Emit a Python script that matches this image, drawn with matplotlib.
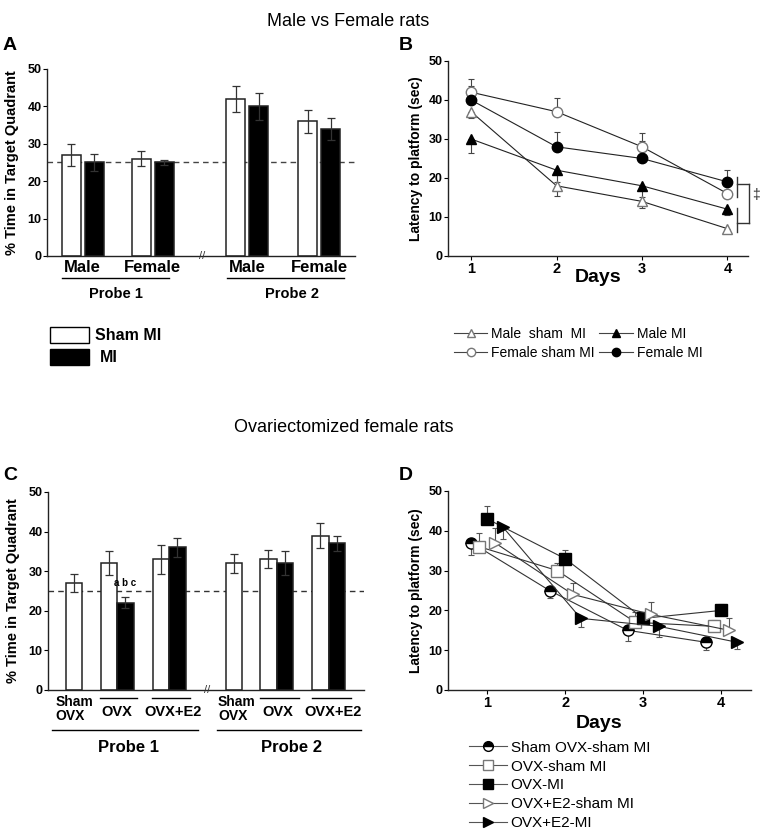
import matplotlib.pyplot as plt
import numpy as np
from matplotlib.lines import Line2D
from matplotlib.patches import Rectangle

plt.rcParams['font.family'] = ['Liberation Sans', 'DejaVu Sans']

# ---------------- data ----------------
# A: % time in target quadrant, male vs female
a_groups = ['Male', 'Female', 'Male', 'Female']
a_sham = [27, 26, 42, 36]
a_sham_err = [3, 2, 3.5, 3]
a_mi = [25, 25, 40, 34]
a_mi_err = [2.2, 0.8, 3.6, 3]

# B: latency, male vs female
days = [1, 2, 3, 4]
b_male_sham = [37, 18, 14, 7]
b_male_sham_err = [1.5, 2.5, 1.7, 1]
b_male_mi = [30, 22, 18, 12]
b_male_mi_err = [3.5, 3, 3, 1.5]
b_fem_sham = [42, 37, 28, 16]
b_fem_sham_err = [3.5, 3.5, 3.5, 1]
b_fem_mi = [40, 28, 25, 19]
b_fem_mi_err = [3.5, 3.7, 4.5, 3]

# C: % time in target quadrant, ovariectomized
c_sham = [27, 32, 33, 32, 33, 39]
c_sham_err = [2.3, 3, 3.6, 2.4, 2.3, 3.2]
c_mi = [np.nan, 22, 36, np.nan, 32, 37]
c_mi_err = [0, 1.4, 2.5, 0, 3, 2]

# D: latency, ovariectomized
d_shamovx = [37, 25, 15, 12]
d_shamovx_err = [3.2, 2, 2.7, 2]
d_ovx_sham = [36, 30, 17, 16]
d_ovx_sham_err = [3.5, 2, 2.5, 1.7]
d_ovx_mi = [43, 33, 18, 20]
d_ovx_mi_err = [3.2, 2.3, 1, 1.7]
d_e2_sham = [37, 24, 19, 15]
d_e2_sham_err = [3.7, 2.8, 3, 3.2]
d_e2_mi = [41, 18, 16, 12]
d_e2_mi_err = [3, 2.2, 2.7, 1.7]

# ---------------- layout ----------------
W, H = 760, 833
fig = plt.figure(figsize=(W / 100, H / 100), dpi=100)


def px_axes(l, t, r, b):
    return fig.add_axes([l / W, 1 - b / H, (r - l) / W, (b - t) / H])


def style(ax, tick_size=9):
    for s in ['top', 'right']:
        ax.spines[s].set_visible(False)
    for s in ['left', 'bottom']:
        ax.spines[s].set_linewidth(1.0)
        ax.spines[s].set_color('#222')
    ax.set_ylim(0, 50)
    ax.set_yticks(range(0, 51, 10))
    ax.tick_params(axis='y', length=3, width=0.8, labelsize=tick_size, pad=1)
    for t in ax.get_yticklabels():
        t.set_fontweight('bold')


ecol = '#333'
bar_kw = dict(edgecolor='#222', linewidth=1.1, zorder=2)
err_kw = dict(fmt='none', ecolor=ecol, elinewidth=0.9, capsize=3, capthick=0.9, zorder=3)

# ---- panel A ----
axA = px_axes(47, 69, 355, 256)
style(axA)
a_pos = np.array([0, 1, 2.35, 3.38])
bw = 0.27
axA.bar(a_pos - 0.165, a_sham, bw, color='white', **bar_kw)
axA.bar(a_pos + 0.165, a_mi, bw, color='black', **bar_kw)
axA.errorbar(a_pos - 0.165, a_sham, yerr=a_sham_err, **err_kw)
axA.errorbar(a_pos + 0.165, a_mi, yerr=a_mi_err, **err_kw)
axA.axhline(25, ls=(0, (4, 3)), color='#444', lw=1, zorder=1)
axA.set_xlim(-0.51, 3.89)
axA.set_xticks([])
axA.set_ylabel('% Time in Target Quadrant', fontsize=10.5, fontweight='bold', labelpad=6)
tA = axA.get_xaxis_transform()
axA.text(1.7, 0, '//', transform=tA, ha='center', va='center', fontsize=8, color='#333')
for x, g in zip(a_pos, a_groups):
    axA.text(x, -0.064, g, transform=tA, ha='center', va='center', fontsize=12, fontweight='bold')
for x0, x1, xc, lab in [(-0.3, 1.24, 0.47, 'Probe 1'), (2.06, 3.74, 2.99, 'Probe 2')]:
    axA.plot([x0, x1], [-0.118, -0.118], transform=tA, color='black', lw=1, clip_on=False)
    axA.text(xc, -0.203, lab, transform=tA, ha='center', va='center', fontsize=10.5, fontweight='bold')

# legend for A
fig.add_artist(Rectangle((50 / W, 1 - 343 / H), 39 / W, 16 / H, transform=fig.transFigure,
                         facecolor='white', edgecolor='black', lw=1))
fig.add_artist(Rectangle((50 / W, 1 - 365 / H), 39 / W, 16 / H, transform=fig.transFigure,
                         facecolor='black', edgecolor='black', lw=1))
fig.text(95 / W, 1 - 335 / H, 'Sham MI', fontsize=11.5, fontweight='bold', va='center')
fig.text(100 / W, 1 - 357 / H, 'MI', fontsize=11.5, fontweight='bold', va='center')

# ---- panel B ----
axB = px_axes(448, 61, 748, 256)
style(axB)
axB.set_xlim(0.73, 4.24)
axB.set_xticks(days)
axB.tick_params(axis='x', length=3, width=0.8, labelsize=10.5, pad=1)
for t in axB.get_xticklabels():
    t.set_fontweight('bold')
axB.set_xlabel('Days', fontsize=14, fontweight='bold', labelpad=-5)
axB.set_ylabel('Latency to platform (sec)', fontsize=10, fontweight='bold', labelpad=4)

b_series = [
    (b_male_sham, b_male_sham_err, 'down', '^', 'white', '#777', 'Male  sham  MI'),
    (b_fem_sham, b_fem_sham_err, 'up', 'o', 'white', '#777', 'Female sham MI'),
    (b_male_mi, b_male_mi_err, 'down', '^', 'black', 'black', 'Male MI'),
    (b_fem_mi, b_fem_mi_err, 'up', 'o', 'black', 'black', 'Female MI'),
]
b_handles = []
for vals, err, d, m, fc, ec, lab in b_series:
    err = np.array(err)
    yerr = [err, np.zeros_like(err)] if d == 'down' else [np.zeros_like(err), err]
    axB.errorbar(days, vals, yerr=yerr, fmt='none', ecolor='#444', elinewidth=0.8,
                 capsize=2.5, capthick=0.8, zorder=2)
    axB.plot(days, vals, color='#222', lw=0.8, marker=m, ms=7.5, mfc=fc, mec=ec, mew=1, zorder=3)
    b_handles.append(Line2D([], [], color='#444', lw=0.8, marker=m, ms=6, mfc=fc, mec=ec, mew=1, label=lab))

# significance bracket
kb = dict(color='#333', lw=1, clip_on=False)
axB.plot([4.11, 4.11], [15.1, 20.3], **kb)
axB.plot([4.11, 4.11], [6.2, 12.3], **kb)
axB.plot([4.11, 4.25], [18.5, 18.5], **kb)
axB.plot([4.11, 4.25], [8.5, 8.5], **kb)
axB.plot([4.25, 4.25], [8.5, 18.5], **kb)
axB.text(4.33, 15.6, '\u2021', ha='center', va='center', fontsize=10, color='#333', clip_on=False)

fig.legend(handles=b_handles, ncol=2, frameon=False, fontsize=10,
           loc='upper left', bbox_to_anchor=(447 / W, 1 - 320 / H),
           handlelength=2.4, handletextpad=0.3, columnspacing=0.3, labelspacing=0.35, borderpad=0)

# ---- panel C ----
axC = px_axes(48, 492, 364, 690)
style(axC)
c_pos = np.array([0, 0.83, 1.83, 3.08, 3.9, 4.9])
cw = 0.317
has_mi = ~np.isnan(np.array(c_mi, dtype=float))
sham_x = np.where(has_mi, c_pos - cw / 2, c_pos)
axC.bar(sham_x, c_sham, cw, color='white', **bar_kw)
axC.bar(c_pos[has_mi] + cw / 2, np.array(c_mi)[has_mi], cw, color='black', **bar_kw)
axC.errorbar(sham_x, c_sham, yerr=c_sham_err, **err_kw)
axC.errorbar(c_pos[has_mi] + cw / 2, np.array(c_mi)[has_mi], yerr=np.array(c_mi_err)[has_mi], **err_kw)
axC.axhline(25, ls=(0, (4, 3)), color='#333', lw=1, zorder=1)
axC.text(0.83 + cw / 2, 27, 'a b c', ha='center', va='center', fontsize=7, fontweight='bold')
axC.set_xlim(-0.5, 5.58)
axC.set_xticks([])
axC.set_ylabel('% Time in Target Quadrant', fontsize=10.5, fontweight='bold', labelpad=6)
tC = axC.get_xaxis_transform()
axC.text(2.56, 0, '//', transform=tC, ha='center', va='center', fontsize=8, color='#333')
for x in [-0.35, 2.77]:
    axC.text(x, -0.096, 'Sham\nOVX', transform=tC, ha='left', va='center', fontsize=10,
             fontweight='bold', linespacing=1.05)
for xc, x0, x1, lab in [(0.83, 0.5, 1.21, 'OVX'), (1.9, 1.5, 2.23, 'OVX+E2'),
                        (3.92, 3.58, 4.33, 'OVX'), (4.98, 4.58, 5.33, 'OVX+E2')]:
    axC.plot([x0, x1], [-0.04, -0.04], transform=tC, color='black', lw=1, clip_on=False)
    axC.text(xc, -0.111, lab, transform=tC, ha='center', va='center', fontsize=10.5, fontweight='bold')
for x0, x1, xc, lab in [(-0.42, 2.38, 1.04, 'Probe 1'), (2.75, 5.52, 4.19, 'Probe 2')]:
    axC.plot([x0, x1], [-0.202, -0.202], transform=tC, color='black', lw=1, clip_on=False)
    axC.text(xc, -0.29, lab, transform=tC, ha='center', va='center', fontsize=12, fontweight='bold')

# ---- panel D ----
axD = px_axes(448, 491, 751, 690)
style(axD)
axD.set_xlim(0.5, 4.38)
axD.set_xticks(days)
axD.tick_params(axis='x', length=3, width=0.8, labelsize=10.5, pad=1)
for t in axD.get_xticklabels():
    t.set_fontweight('bold')
axD.set_xlabel('Days', fontsize=14, fontweight='bold', labelpad=4)
axD.set_ylabel('Latency to platform (sec)', fontsize=10, fontweight='bold', labelpad=4)

d_series = [
    (d_shamovx, d_shamovx_err, -0.2, 'down', dict(marker='o', mfc='black', mfcalt='white', fillstyle='top', mec='black'), 'Sham OVX-sham MI'),
    (d_ovx_sham, d_ovx_sham_err, -0.1, 'up', dict(marker='s', mfc='white', mec='#777'), 'OVX-sham MI'),
    (d_ovx_mi, d_ovx_mi_err, 0.0, 'up', dict(marker='s', mfc='black', mec='black'), 'OVX-MI'),
    (d_e2_sham, d_e2_sham_err, 0.1, 'up', dict(marker='>', mfc='white', mec='#777'), 'OVX+E2-sham MI'),
    (d_e2_mi, d_e2_mi_err, 0.2, 'down', dict(marker='>', mfc='black', mec='black'), 'OVX+E2-MI'),
]
d_handles = []
for vals, err, off, d, mk, lab in d_series:
    x = np.array(days) + off
    err = np.array(err)
    yerr = [err, np.zeros_like(err)] if d == 'down' else [np.zeros_like(err), err]
    axD.errorbar(x, vals, yerr=yerr, fmt='none', ecolor='#555', elinewidth=0.8,
                 capsize=2.5, capthick=0.8, zorder=2)
    axD.plot(x, vals, color='#333', lw=0.8, ms=8, mew=1, zorder=3, **mk)
    d_handles.append(Line2D([], [], color='#555', lw=0.8, ms=7, mew=1, label=lab, **mk))

fig.legend(handles=d_handles, ncol=1, frameon=False, fontsize=11,
           loc='upper left', bbox_to_anchor=(461 / W, 1 - 733 / H),
           handlelength=2.5, handletextpad=0.25, labelspacing=0.32, borderpad=0)

# ---- titles and panel letters ----
fig.text(348 / W, 1 - 22 / H, 'Male vs Female rats', ha='center', va='center', fontsize=13)
fig.text(344 / W, 1 - 428 / H, 'Ovariectomized female rats', ha='center', va='center', fontsize=13)
for lab, x, y in [('A', 3, 45), ('B', 399, 45), ('C', 3, 476), ('D', 399, 476)]:
    fig.text(x / W, 1 - y / H, lab, ha='left', va='center', fontsize=14, fontweight='bold')

fig.savefig('out.png', dpi=100)
